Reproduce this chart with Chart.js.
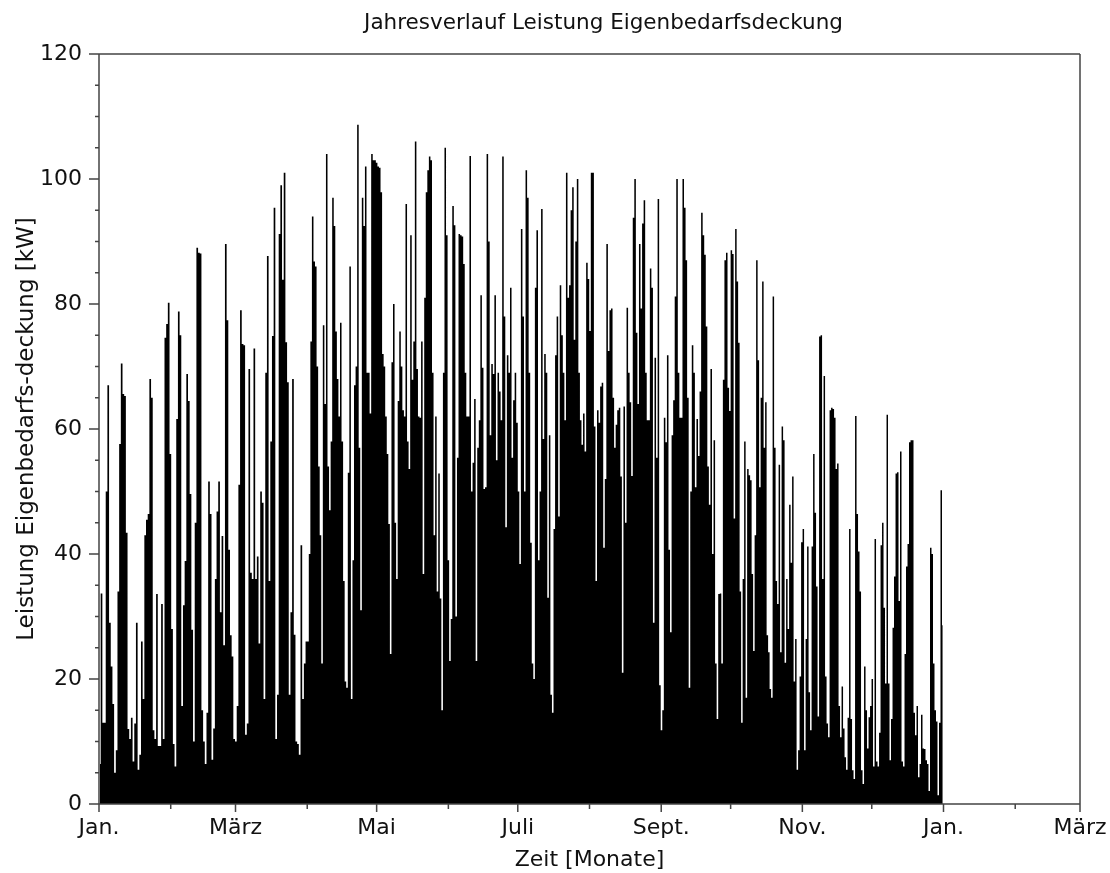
<!DOCTYPE html>
<html>
<head>
<meta charset="utf-8">
<script src="https://cdn.jsdelivr.net/npm/chart.js@4.4.1/dist/chart.umd.min.js"></script>
<style>
  html, body { margin: 0; padding: 0; background: #ffffff; }
  #wrap { width: 1110px; height: 873px; position: relative; }
</style>
</head>
<body>
<div id="wrap"><canvas id="c" width="1110" height="873"></canvas></div>
<script>
// Leistung Eigenbedarfsdeckung [kW], Verlauf je Quartal (gleichmäßig über die Tage des Quartals verteilt)
const quartal1 = [6.4, 33.7, 13, 13, 50, 67, 29, 22, 16, 5,
  8.6, 34, 57.6, 70.5, 65.6, 65.3, 43.4, 12, 10.4, 13.8,
  6.8, 12.9, 29, 5.5, 7.9, 26, 16.8, 43, 45.5, 46.4,
  68, 65, 11.8, 10.4, 33.6, 9.3, 9.3, 32, 10.4, 74.6,
  76.8, 80.2, 56, 28, 9.6, 6, 61.6, 78.8, 75, 15.7,
  31.8, 38.9, 68.8, 64.5, 49.6, 27.9, 10, 45, 89, 88.2,
  88.1, 15, 10, 6.4, 14.6, 51.6, 46.4, 7.1, 12.1, 36,
  46.8, 51.6, 30.7, 42.9, 25.4, 89.6, 77.4, 40.7, 27, 23.6,
  10.4, 10, 15.7, 51.1, 79, 73.6, 73.4, 11.1, 12.9, 69.6,
  37, 36, 72.9, 36, 39.6, 25.7, 50, 48.2, 16.8, 69,
  87.7, 35.7, 58, 74.9, 95.4, 10.4, 17.5, 91.2, 99, 83.9,
  101, 73.9, 67.5, 17.5, 30.7, 68, 27.1, 10, 9.6, 7.9,
  41.4, 16.8, 22.5, 26];

const quartal2 = [26, 40, 74, 94, 86.8, 86, 70, 54, 43, 22.5,
  76.6, 64, 104, 54, 47, 58, 97, 92.5, 75.6, 68,
  62, 77, 58, 35.7, 19.6, 18.6, 53, 86, 16.8, 39,
  67, 70, 108.7, 57, 31, 97, 92.5, 102, 69, 69,
  62.5, 104, 103, 103, 102.6, 102, 101.8, 97.9, 72, 70,
  62, 56, 44.8, 24, 70.7, 80, 45, 36, 64.5, 75.6,
  70, 63, 62, 96, 58, 53.6, 91, 67.9, 74, 106,
  69.6, 62, 61.8, 74, 36.8, 81, 97.9, 101.4, 103.6, 103,
  69, 43, 62, 34, 52.9, 32.9, 15, 69, 105, 91,
  39, 22.9, 29.6, 95.7, 92.6, 30, 55.4, 91.2, 91, 90.8,
  86.4, 69, 62, 62, 103.7, 50, 54.6, 64.8, 22.9, 57,
  61.4, 81.4, 69.8, 50.4, 50.7, 104, 90, 59, 70.4, 68.8,
  81.4, 55, 69, 66, 61.4, 103.6, 78, 44.3, 71.8, 69,
  82.6, 55.4, 64.6, 69, 61];

const quartal3 = [50, 38.4, 92, 78, 50, 101.4, 97, 69, 41.8, 22.5,
  20, 82.6, 91.8, 39, 50, 95.2, 58.4, 72, 69, 33,
  59, 17.5, 14.6, 44, 71.8, 78, 46, 83, 75, 69,
  61.4, 101, 81, 83, 95, 98.7, 74.3, 90, 100, 69,
  61.4, 57.5, 62.5, 56.4, 86.6, 84, 75.7, 101, 101, 60.4,
  35.7, 63, 61, 66.8, 67.4, 41, 52, 89.6, 72.5, 79,
  79.3, 65, 57, 60.7, 63, 63.4, 52.4, 21, 63.6, 45,
  79.4, 69, 64.3, 52.5, 93.8, 100, 75.4, 64, 89.6, 79.3,
  92.9, 96.6, 69, 61.4, 61.4, 85.7, 82.6, 29, 71.4, 55.4,
  96.8, 19, 11.8, 15, 61.8, 57.9, 71.8, 40.7, 27.5, 59,
  64.6, 81.2, 100, 69, 61.8, 61.8, 100, 95.4, 87, 65,
  18.6, 50, 73.4, 69, 50.7, 61.6, 55.7, 66, 94.6, 91,
  87.9, 76.4, 54, 47.9, 69.6, 40, 58.2, 22.5, 13.6, 33.6,
  33.7, 22.5, 67.9, 87, 88.2, 66.6, 62.9];

const quartal4 = [88.6, 88, 45.7, 92, 83.6, 73.8, 34, 13, 36, 58,
  17, 53.6, 52.6, 51.8, 36.8, 24.5, 43, 87, 71, 50.7,
  65, 83.6, 57, 64.3, 27, 24.3, 18.4, 17, 81.2, 57,
  35.7, 32, 54.3, 24.3, 60.4, 58.2, 22.6, 36, 28, 47.9,
  38.6, 52.4, 19.6, 26.4, 5.5, 8.6, 20.4, 41.9, 44, 8.6,
  26.4, 41.2, 17.9, 11.8, 41.2, 56, 46.6, 34.8, 14, 74.8,
  75, 36, 68.5, 20.4, 12.9, 10.7, 63, 63.4, 63.2, 61.8,
  53.6, 54.5, 15.7, 10.7, 18.8, 12.1, 7.5, 5.5, 13.8, 44,
  13.6, 5.4, 4, 62.1, 46.4, 40.4, 34, 5.4, 3.2, 22,
  15, 8.9, 13.9, 15.7, 20, 6, 42.4, 6.8, 6, 11.4,
  41.4, 45, 31.4, 19.3, 62.3, 19.3, 7, 13.6, 28.2, 36.4,
  52.9, 53.1, 32.5, 56.4, 6.8, 6, 24, 38, 41.6, 57.9,
  58.2, 58.2, 14.6, 11, 15.7, 4.3, 6.4, 14.3, 8.9, 8.8,
  7, 6.4, 2.1, 41, 40, 22.5, 15, 13.2, 1.4, 13, 50.2, 28.6];

// Quartalsgrenzen in Tagen ab 1. Januar
const quartalGrenzen = [0, 90, 181, 273, 365];

// Monatsanfänge (Tage ab 1. Januar) bis März des Folgejahres, mit Beschriftung jedes zweiten Monats
const monatsAnfaenge = [0, 31, 59, 90, 120, 151, 181, 212, 243, 273, 304, 334, 365, 396, 424];
const monatsNamen = ['Jan.', '', 'März', '', 'Mai', '', 'Juli', '', 'Sept.', '', 'Nov.', '', 'Jan.', '', 'März'];

const yTicks = [0, 20, 40, 60, 80, 100, 120];
const yNebenTickAbstand = 5;

const titel = 'Jahresverlauf Leistung Eigenbedarfsdeckung';
const xTitel = 'Zeit [Monate]';
const yTitel = 'Leistung Eigenbedarfs-deckung [kW]';

// Punkte aus den Quartalsreihen zusammensetzen
const quartale = [quartal1, quartal2, quartal3, quartal4];
const punkte = [];
quartale.forEach((reihe, q) => {
  const start = quartalGrenzen[q];
  const dauer = quartalGrenzen[q + 1] - start;
  reihe.forEach((wert, i) => {
    punkte.push({ x: start + (i + 0.5) * dauer / reihe.length, y: wert });
  });
});

const FAMILIE = "'DejaVu Sans', Verdana, sans-serif";
const schrift = { family: FAMILIE, size: 22 };
const textFarbe = '#111111';
const rahmenFarbe = '#444444';

const rahmenPlugin = {
  id: 'rahmen',
  afterDraw(chart) {
    const { ctx, chartArea: a, scales } = chart;
    const xs = scales.x, ys = scales.y;
    ctx.save();
    ctx.strokeStyle = rahmenFarbe;
    ctx.lineWidth = 1.5;
    ctx.beginPath();
    // Achsenrahmen
    ctx.moveTo(a.left, a.top); ctx.lineTo(a.left, a.bottom);
    ctx.moveTo(a.left, a.bottom); ctx.lineTo(a.right, a.bottom);
    ctx.moveTo(a.left, a.top); ctx.lineTo(a.right, a.top);
    ctx.moveTo(a.right, a.top); ctx.lineTo(a.right, a.bottom);
    // y-Teilstriche
    for (let v = 0; v <= ys.max; v += yNebenTickAbstand) {
      const y = ys.getPixelForValue(v);
      const len = yTicks.includes(v) ? 10 : 4;
      ctx.moveTo(a.left - len, y); ctx.lineTo(a.left, y);
    }
    // x-Teilstriche
    monatsAnfaenge.forEach((d, i) => {
      const x = xs.getPixelForValue(d);
      const len = monatsNamen[i] ? 8 : 5;
      ctx.moveTo(x, a.bottom); ctx.lineTo(x, a.bottom + len);
    });
    ctx.stroke();
    // Diagrammtitel
    ctx.fillStyle = textFarbe;
    ctx.font = `21.5px ${FAMILIE}`;
    ctx.textAlign = 'center';
    ctx.textBaseline = 'middle';
    ctx.fillText(titel, (a.left + a.right) / 2 + 14, 23);
    ctx.restore();
  }
};

new Chart(document.getElementById('c'), {
  type: 'line',
  data: {
    datasets: [{
      data: punkte,
      stepped: 'middle',
      fill: 'origin',
      backgroundColor: '#000000',
      borderColor: '#000000',
      borderWidth: 0,
      pointRadius: 0
    }]
  },
  options: {
    responsive: false,
    animation: false,
    events: [],
    layout: { padding: { top: 54, right: 0, left: 0, bottom: 0 } },
    plugins: {
      legend: { display: false },
      tooltip: { enabled: false },
      title: { display: false }
    },
    scales: {
      x: {
        type: 'linear',
        min: monatsAnfaenge[0],
        max: monatsAnfaenge[monatsAnfaenge.length - 1],
        afterBuildTicks: (s) => { s.ticks = monatsAnfaenge.map(v => ({ value: v })); },
        ticks: {
          autoSkip: false,
          maxRotation: 0,
          padding: 11,
          color: textFarbe,
          font: schrift,
          callback: (v) => monatsNamen[monatsAnfaenge.indexOf(v)]
        },
        grid: { display: false, drawTicks: false },
        border: { display: false },
        title: { display: true, text: xTitel, color: textFarbe, font: schrift, padding: { top: 0, bottom: 0 } },
        afterFit: (s) => { s.height = 69; s.paddingLeft = 0; s.paddingRight = 30; }
      },
      y: {
        min: 0,
        max: 120,
        afterBuildTicks: (s) => { s.ticks = yTicks.map(v => ({ value: v })); },
        ticks: { padding: 17, color: textFarbe, font: schrift },
        grid: { display: false, drawTicks: false },
        border: { display: false },
        title: { display: true, text: yTitel, color: textFarbe, font: { family: FAMILIE, size: 23 }, padding: { top: 13, bottom: 0 } },
        afterFit: (s) => { s.width = 99; }
      }
    }
  },
  plugins: [rahmenPlugin]
});
</script>
</body>
</html>
